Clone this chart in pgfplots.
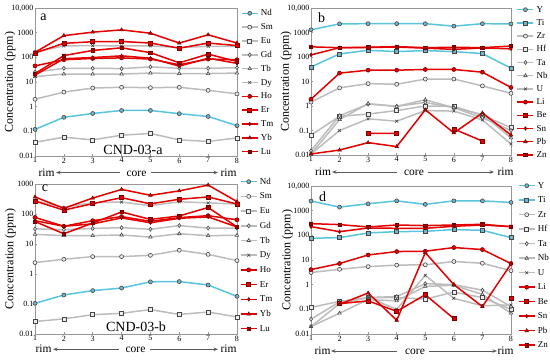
\documentclass[border=0pt]{standalone}
\usepackage{pgfplots}
\pgfplotsset{compat=1.18}
\usepackage{pgfplotstable}
\usepackage{fontspec}
\setmainfont{Liberation Serif}
\usetikzlibrary{arrows.meta}

\definecolor{cy}{RGB}{88,196,222}
\definecolor{cyf}{RGB}{120,178,196}
\definecolor{gl}{RGB}{188,188,188}
\definecolor{gm}{RGB}{70,70,70}
\definecolor{gf}{RGB}{235,235,235}
\definecolor{rl}{RGB}{226,0,0}
\definecolor{rm}{RGB}{120,0,0}
\definecolor{fr}{RGB}{150,150,150}

\pgfdeclareplotmark{boxx}{%
  \pgfpathrectangle{\pgfpoint{-\pgfplotmarksize}{-\pgfplotmarksize}}{\pgfpoint{2\pgfplotmarksize}{2\pgfplotmarksize}}%
  \pgfusepathqfillstroke
  \pgfpathmoveto{\pgfpoint{-\pgfplotmarksize}{-\pgfplotmarksize}}\pgfpathlineto{\pgfpoint{\pgfplotmarksize}{\pgfplotmarksize}}%
  \pgfpathmoveto{\pgfpoint{-\pgfplotmarksize}{\pgfplotmarksize}}\pgfpathlineto{\pgfpoint{\pgfplotmarksize}{-\pgfplotmarksize}}%
  \pgfusepathqstroke}

\pgfplotstableread{
x Nd Sm Eu Gd Tb Dy Ho Er Tm Yb Lu
1 0.12 2.0 0.036 25 16.5 165 45 150 19 160 22
2 0.37 3.9 0.058 36 21 290 80 370 88 760 118
3 0.53 5.7 0.045 36 21 300 90 430 98 1050 190
4 0.70 6.1 0.070 35 21 290 95 440 115 1300 243
5 0.70 5.9 0.082 41 23 290 85 380 92 950 155
6 0.52 6.1 0.045 36 22 250 50 235 44 380 60
7 0.40 4.6 0.039 36 22 280 85 380 92 820 135
8 0.17 3.3 0.054 38 23 280 80 300 57 380 68
}\tabA

\pgfplotstableread{
x Y Ti Zr Hf Ta Nb U Li Be Sn Pb Zn
1 1290 39 1.44 0.065 0.015 0.011 0.011 1.9 nan 122 0.011 260
2 2250 134 5.5 0.38 0.40 0.28 0.10 22 nan 240 0.016 240
3 2290 188 8.2 0.47 1.2 1.25 0.30 29 0.076 245 0.032 250
4 2290 166 7.7 0.65 0.97 0.97 0.24 29 0.076 255 0.022 265
5 2290 183 12.6 1.0 1.4 1.8 0.65 31 nan 230 0.70 240
6 1820 166 12.6 0.97 0.85 0.85 0.62 31 0.115 205 0.08 250
7 2290 138 6.6 0.42 0.33 0.45 0.27 24 0.037 235 0.52 240
8 2250 35 3.3 0.13 0.10 0.05 0.028 5.7 nan 215 0.065 280
}\tabB

\pgfplotstableread{
x Nd Sm Eu Gd Tb Dy Ho Er Tm Yb Lu
1 0.105 2.4 0.026 32 21 280 77 270 60 370 56
2 0.20 3.1 0.032 30 19 165 39 135 39 155 22
3 0.28 3.8 0.044 33 19 240 60 221 47 340 50
4 0.34 3.8 0.049 35 20 250 82 350 74 660 117
5 0.55 4.2 0.065 31 17 190 57 218 51 420 66
6 0.56 6.2 0.045 41 22 255 76 310 72 590 86
7 0.43 4.5 0.054 34 19 235 88 370 80 920 165
8 0.18 2.8 0.037 34 19.5 215 64 215 37 260 37
}\tabC

\pgfplotstableread{
x Y Ti Zr Hf Ta Nb U Li Be Sn Pb Zn
1 2460 76 3.1 0.12 0.04 0.02 0.02 4.1 nan 225 nan 298
2 1400 81 4.2 0.21 0.2 0.07 0.17 7.2 0.17 141 0.16 272
3 1900 125 5.4 0.3 0.3 0.25 0.3 16 0.22 198 0.46 219
4 2500 141 6.2 0.3 0.33 0.22 0.1 22 0.083 193 0.036 263
5 1800 146 6.4 0.26 1.1 0.85 2.4 22.7 0.39 193 20 248
6 2500 171 8.7 0.5 1.0 0.95 0.28 32 0.042 233 1.0 263
7 2500 160 7.4 0.3 0.6 0.4 0.14 26.5 nan 263 0.13 280
8 2150 81 3.7 0.1 0.13 0.07 0.15 7.2 0.29 225 7 225
}\tabD

\pgfplotsset{
 mypanel/.style={scale only axis, anchor=north west, xmin=1, xmax=8,
   xtick={1,...,8}, xticklabels={1,2,3,4,5,6,7,8},
   yminorticks=false, axis line style={draw=fr, line width=0.6pt},
   tick style={draw=fr, line width=0.5pt}, major tick length=2pt, tick align=inside,
   xtick pos=bottom, ytick pos=left,
   tick label style={font=\fontsize{8}{9}\selectfont, text=black},
   xticklabel style={inner sep=1.5pt},
   yticklabel style={inner sep=1.5pt},
   ylabel={Concentration (ppm)},
   ylabel style={font=\fontsize{12}{12}\selectfont, anchor=center},
   unbounded coords=jump,
   legend cell align=left,
   legend image code/.code={\draw[mark repeat=2,mark phase=2] plot coordinates {(0pt,0pt)(8pt,0pt)(16pt,0pt)};},
   legend style={draw=none, fill=none, inner sep=0pt, outer sep=0pt, anchor=north west,
     font=\fontsize{9}{9}\selectfont, column sep=2.5pt,
     nodes={inner sep=0pt, text height=6.5pt, text depth=1.5pt}},
 },
 sC/.style={color=cy, line width=1.5pt, mark size=2pt, mark options={draw=gm, fill=cyf, line width=0.6pt, solid}},
 sG/.style={color=gl, line width=1.5pt, mark size=2pt, mark options={draw=gm, fill=gf, line width=0.6pt, solid}},
 sR/.style={color=rl, line width=1.5pt, mark size=2pt, mark options={draw=rm, fill=rl, line width=0.6pt, solid}},
}

\tikzset{rc/.style={font=\fontsize{11.5}{11.5}\selectfont, inner sep=0pt, anchor=base},
  ar/.style={-{Stealth[length=4.5pt,width=3.5pt]}, line width=0.8pt, draw=black!65},
  pl/.style={font=\fontsize{14}{14}\selectfont, inner sep=0pt, anchor=base}}

\begin{document}
\begin{tikzpicture}
\path[use as bounding box] (0,0) rectangle (550pt,-360pt);

% ---------- panel a ----------
\begin{axis}[ymode=log, mypanel, at={(35pt,-8pt)}, width=202pt, height=148pt,
  ymin=0.01, ymax=10000,
  ytick={0.01,0.1,1,10,100,1000,10000}, yticklabels={0.01,0.1,1,10,100,1000,{10,000}},
  ylabel style={at={(axis description cs:-0.124,0.5)}},
  legend style={at={(rel axis cs:1,1)}, xshift=4pt, yshift=-1.3pt, row sep=5.84pt}]
\addplot[sC, mark=*] table[x=x,y=Nd]{\tabA}; \addlegendentry{Nd}
\addplot[sG, mark=*] table[x=x,y=Sm]{\tabA}; \addlegendentry{Sm}
\addplot[sG, mark=square*] table[x=x,y=Eu]{\tabA}; \addlegendentry{Eu}
\addplot[sG, mark=diamond*] table[x=x,y=Gd]{\tabA}; \addlegendentry{Gd}
\addplot[sG, mark=triangle*] table[x=x,y=Tb]{\tabA}; \addlegendentry{Tb}
\addplot[sG, mark=x] table[x=x,y=Dy]{\tabA}; \addlegendentry{Dy}
\addplot[sR, mark=*] table[x=x,y=Ho]{\tabA}; \addlegendentry{Ho}
\addplot[sR, mark=square*] table[x=x,y=Er]{\tabA}; \addlegendentry{Er}
\addplot[sR, mark=diamond*, mark size=1.7pt] table[x=x,y=Tm]{\tabA}; \addlegendentry{Tm}
\addplot[sR, mark=triangle*] table[x=x,y=Yb]{\tabA}; \addlegendentry{Yb}
\addplot[sR, mark=boxx, mark size=1.7pt] table[x=x,y=Lu]{\tabA}; \addlegendentry{Lu}
\end{axis}

% ---------- panel b ----------
\begin{axis}[ymode=log, mypanel, at={(311pt,-8pt)}, width=200pt, height=147pt,
  ymin=0.01, ymax=10000,
  ytick={0.01,0.1,1,10,100,1000,10000}, yticklabels={0.01,0.1,1,10,100,1000,{10,000}},
  ylabel style={at={(axis description cs:-0.125,0.5)}},
  legend style={at={(rel axis cs:1,1)}, xshift=5.7pt, yshift=2.3pt, row sep=5.2pt}]
\addplot[sC, mark=*] table[x=x,y=Y]{\tabB}; \addlegendentry{Y}
\addplot[sC, mark=square*] table[x=x,y=Ti]{\tabB}; \addlegendentry{Ti}
\addplot[sG, mark=*] table[x=x,y=Zr]{\tabB}; \addlegendentry{Zr}
\addplot[sG, mark=square*] table[x=x,y=Hf]{\tabB}; \addlegendentry{Hf}
\addplot[sG, mark=diamond*] table[x=x,y=Ta]{\tabB}; \addlegendentry{Ta}
\addplot[sG, mark=triangle*] table[x=x,y=Nb]{\tabB}; \addlegendentry{Nb}
\addplot[sG, mark=x] table[x=x,y=U]{\tabB}; \addlegendentry{U}
\addplot[sR, mark=*] table[x=x,y=Li]{\tabB}; \addlegendentry{Li}
\addplot[sR, mark=square*] table[x=x,y=Be]{\tabB}; \addlegendentry{Be}
\addplot[sR, mark=diamond*, mark size=1.7pt] table[x=x,y=Sn]{\tabB}; \addlegendentry{Sn}
\addplot[sR, mark=triangle*] table[x=x,y=Pb]{\tabB}; \addlegendentry{Pb}
\addplot[sR, mark=boxx, mark size=1.7pt] table[x=x,y=Zn]{\tabB}; \addlegendentry{Zn}
\end{axis}

% ---------- panel c ----------
\begin{axis}[ymode=log, mypanel, at={(35pt,-184pt)}, width=202pt, height=150pt,
  ymin=0.01, ymax=1000,
  ytick={0.01,0.1,1,10,100,1000}, yticklabels={0.01,0.1,1,10,100,1000},
  ylabel style={at={(axis description cs:-0.121,0.5)}},
  legend style={at={(rel axis cs:1,1)}, xshift=3pt, yshift=6.3pt, row sep=6.7pt}]
\addplot[sC, mark=*] table[x=x,y=Nd]{\tabC}; \addlegendentry{Nd}
\addplot[sG, mark=*] table[x=x,y=Sm]{\tabC}; \addlegendentry{Sm}
\addplot[sG, mark=square*] table[x=x,y=Eu]{\tabC}; \addlegendentry{Eu}
\addplot[sG, mark=diamond*] table[x=x,y=Gd]{\tabC}; \addlegendentry{Gd}
\addplot[sG, mark=triangle*] table[x=x,y=Tb]{\tabC}; \addlegendentry{Tb}
\addplot[sG, mark=x] table[x=x,y=Dy]{\tabC}; \addlegendentry{Dy}
\addplot[sR, mark=*] table[x=x,y=Ho]{\tabC}; \addlegendentry{Ho}
\addplot[sR, mark=square*] table[x=x,y=Er]{\tabC}; \addlegendentry{Er}
\addplot[sR, mark=diamond*, mark size=1.7pt] table[x=x,y=Tm]{\tabC}; \addlegendentry{Tm}
\addplot[sR, mark=triangle*] table[x=x,y=Yb]{\tabC}; \addlegendentry{Yb}
\addplot[sR, mark=boxx, mark size=1.7pt] table[x=x,y=Lu]{\tabC}; \addlegendentry{Lu}
\end{axis}

% ---------- panel d ----------
\begin{axis}[ymode=log, mypanel, at={(311pt,-186pt)}, width=200pt, height=148pt,
  ymin=0.01, ymax=10000,
  ytick={0.01,0.1,1,10,100,1000,10000}, yticklabels={0.01,0.1,1,10,100,1000,{10,000}},
  ylabel style={at={(axis description cs:-0.118,0.5)}},
  legend style={at={(rel axis cs:1,1)}, xshift=7pt, yshift=4.3pt, row sep=6.5pt}]
\addplot[sC, mark=*] table[x=x,y=Y]{\tabD}; \addlegendentry{Y}
\addplot[sC, mark=square*] table[x=x,y=Ti]{\tabD}; \addlegendentry{Ti}
\addplot[sG, mark=*] table[x=x,y=Zr]{\tabD}; \addlegendentry{Zr}
\addplot[sG, mark=square*] table[x=x,y=Hf]{\tabD}; \addlegendentry{Hf}
\addplot[sG, mark=diamond*] table[x=x,y=Ta]{\tabD}; \addlegendentry{Ta}
\addplot[sG, mark=triangle*] table[x=x,y=Nb]{\tabD}; \addlegendentry{Nb}
\addplot[sG, mark=x] table[x=x,y=U]{\tabD}; \addlegendentry{U}
\addplot[sR, mark=*] table[x=x,y=Li]{\tabD}; \addlegendentry{Li}
\addplot[sR, mark=square*] table[x=x,y=Be]{\tabD}; \addlegendentry{Be}
\addplot[sR, mark=diamond*, mark size=1.7pt] table[x=x,y=Sn]{\tabD}; \addlegendentry{Sn}
\addplot[sR, mark=triangle*] table[x=x,y=Pb]{\tabD}; \addlegendentry{Pb}
\addplot[sR, mark=boxx, mark size=1.7pt] table[x=x,y=Zn]{\tabD}; \addlegendentry{Zn}
\end{axis}

% panel letters and sample names
\node[pl] at (43.5pt,-20pt) {a};
\node[pl] at (133pt,-154.5pt) {CND-03-a};
\node[pl] at (321.5pt,-22pt) {b};
\node[pl] at (45pt,-191.5pt) {c};
\node[pl] at (136pt,-331.5pt) {CND-03-b};
\node[pl] at (322.5pt,-201.5pt) {d};

% rim -- core -- rim
\node[rc] at (46.5pt,-176pt) {rim};
\draw[ar] (120pt,-172.5pt) -- (56pt,-172.5pt);
\node[rc] at (136.5pt,-176pt) {core};
\draw[ar] (151pt,-172.5pt) -- (218pt,-172.5pt);
\node[rc] at (228.5pt,-176pt) {rim};

\node[rc] at (323pt,-175.5pt) {rim};
\draw[ar] (397pt,-172pt) -- (332pt,-172pt);
\node[rc] at (414pt,-175.5pt) {core};
\draw[ar] (428pt,-172pt) -- (494pt,-172pt);
\node[rc] at (505.5pt,-175.5pt) {rim};

\node[rc] at (43.5pt,-352.5pt) {rim};
\draw[ar] (119pt,-349.3pt) -- (53pt,-349.3pt);
\node[rc] at (135.5pt,-352.5pt) {core};
\draw[ar] (150pt,-349.3pt) -- (218pt,-349.3pt);
\node[rc] at (228.5pt,-352.5pt) {rim};

\node[rc] at (322.5pt,-354pt) {rim};
\draw[ar] (397pt,-351pt) -- (331pt,-351pt);
\node[rc] at (415pt,-354pt) {core};
\draw[ar] (429pt,-351pt) -- (497pt,-351pt);
\node[rc] at (505.5pt,-354pt) {rim};
\end{tikzpicture}
\end{document}
